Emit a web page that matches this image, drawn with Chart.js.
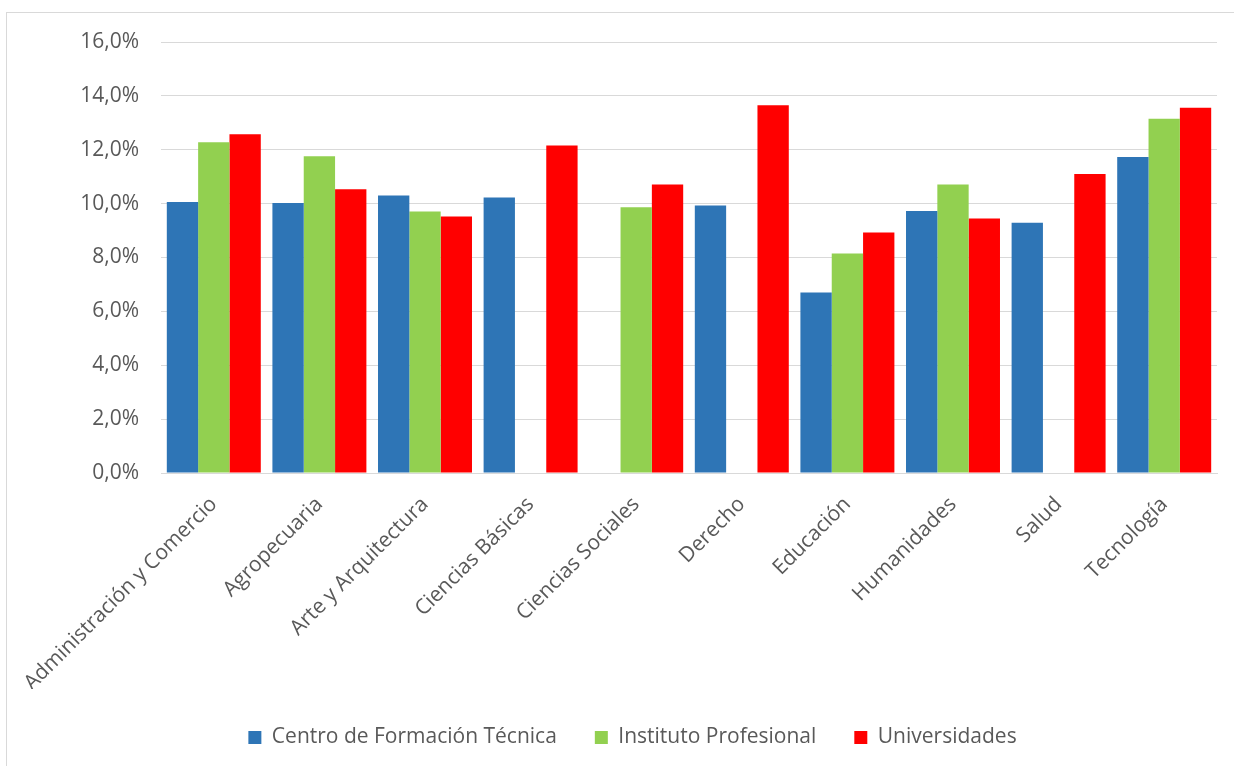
<!DOCTYPE html>
<html>
<head>
<meta charset="utf-8">
<script src="https://cdn.jsdelivr.net/npm/chart.js@4.4.0/dist/chart.umd.min.js"></script>
<style>
  html, body { margin: 0; padding: 0; background: #fff; }
  body { width: 1234px; height: 766px; position: relative; overflow: hidden; }
  .frame { position: absolute; left: 6px; top: 12px; width: 1240px; height: 770px; border: 1px solid #d9d9d9; }
  .wrap { position: absolute; left: 0; top: 0; width: 1234px; height: 766px; }
</style>
</head>
<body>
<div class="frame"></div>
<div class="wrap"><canvas id="bar-chart"></canvas></div>
<script>
const categorias = ["Administración y Comercio", "Agropecuaria", "Arte y Arquitectura", "Ciencias Básicas", "Ciencias Sociales", "Derecho", "Educación", "Humanidades", "Salud", "Tecnología"];

// porcentajes por tipo de institución (null = sin dato)
const cft = [10.06, 10.02, 10.30, 10.23, null, 9.93, 6.70, 9.73, 9.29, 11.73];
const ip = [12.28, 11.76, 9.71, null, 9.87, null, 8.15, 10.71, null, 13.15];
const universidades = [12.58, 10.53, 9.52, 12.16, 10.71, 13.65, 8.93, 9.45, 11.10, 13.56];

const ticksY = [0, 2, 4, 6, 8, 10, 12, 14, 16];

const fuente = "'Open Sans', sans-serif";
const gris = "#595959";

new Chart(document.getElementById("bar-chart"), {
  type: 'bar',
  data: {
    labels: categorias,
    datasets: [
      { label: "Centro de Formación Técnica", data: cft, backgroundColor: "#2E75B6" },
      { label: "Instituto Profesional", data: ip, backgroundColor: "#92D050" },
      { label: "Universidades", data: universidades, backgroundColor: "#FF0000" }
    ]
  },
  options: {
    responsive: true,
    maintainAspectRatio: false,
    animation: false,
    datasets: { bar: { categoryPercentage: 0.89, barPercentage: 1.0 } },
    layout: { padding: { left: 48, right: 17, top: 42, bottom: 8 } },
    plugins: {
      tooltip: { enabled: false },
      legend: {
        position: 'bottom',
        labels: {
          boxWidth: 13, boxHeight: 13, padding: 38,
          color: gris,
          font: { family: fuente, size: 21 }
        }
      }
    },
    scales: {
      x: {
        grid: { display: false, drawTicks: false },
        border: { color: "#d9d9d9", width: 1 },
        ticks: {
          autoSkip: false, maxRotation: 45, minRotation: 45,
          color: gris, padding: 19,
          font: { family: fuente, size: 21 }
        },
        afterFit: (s) => { s.height = 216; }
      },
      y: {
        min: 0, max: 16,
        afterBuildTicks: (s) => { s.ticks = ticksY.map(v => ({ value: v })); },
        grid: { color: "#d9d9d9", lineWidth: 1, drawTicks: false },
        border: { display: false },
        ticks: {
          color: gris, padding: 22,
          font: { family: fuente, size: 21 },
          callback: (v) => v.toFixed(1).replace('.', ',') + '%'
        },
        afterFit: (s) => { s.width = 113; }
      }
    }
  }
});
</script>
</body>
</html>
